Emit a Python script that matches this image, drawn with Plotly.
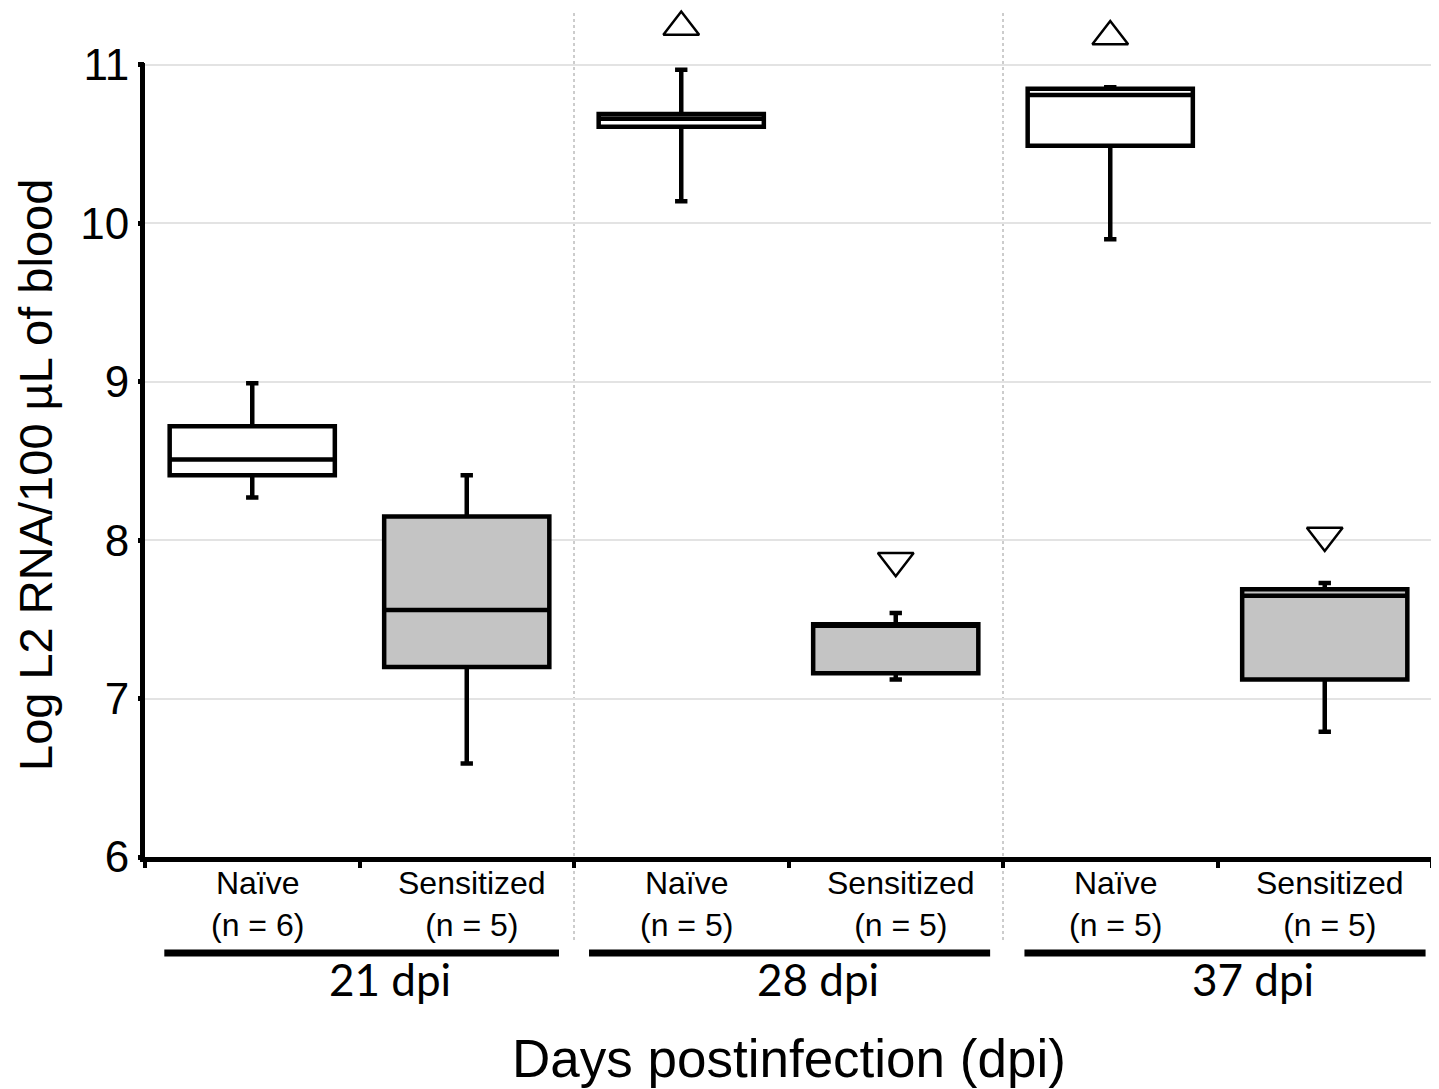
import plotly.graph_objects as go

# ---- data ----
positions = [0, 1, 2, 3, 4, 5]
groups = ["Naïve", "Sensitized", "Naïve", "Sensitized", "Naïve", "Sensitized"]
n_labels = ["(n = 6)", "(n = 5)", "(n = 5)", "(n = 5)", "(n = 5)", "(n = 5)"]
lower = [8.27, 6.59, 10.14, 7.12, 9.90, 6.79]
q1 = [8.41, 7.20, 10.61, 7.16, 10.49, 7.12]
median = [8.51, 7.56, 10.66, 7.46, 10.81, 7.65]
q3 = [8.72, 8.15, 10.69, 7.47, 10.85, 7.69]
upper = [8.99, 8.41, 10.97, 7.54, 10.86, 7.73]

up_x = [2, 4]
up_y = [11.24, 11.18]
down_x = [3, 5]
down_y = [7.87, 8.03]

day_labels = ["21 dpi", "28 dpi", "37 dpi"]
day_bar_start = [-0.41, 1.57, 3.60]
day_bar_end = [1.43, 3.44, 5.47]
separators = [1.5, 3.5]
yticks = [6, 7, 8, 9, 10, 11]
y_axis_top = 11
y_range = [6, 11.347]

naive_idx = [0, 2, 4]
sens_idx = [1, 3, 5]

FONT = "Liberation Sans, Arial, sans-serif"

# page has an 8px body margin; compensate
W, H = 1431, 1081
ML, MR, MT, MB = 137, 7, 2, 232
plot_h = H - MT - MB
plot_w = W - ML - MR


def py(px):
    """convert page pixel y to paper coordinate"""
    bottom = 8 + MT + plot_h
    return (bottom - px) / plot_h


fig = go.Figure()


def add_box(idx, fill, name):
    fig.add_trace(go.Box(
        x=[positions[i] for i in idx],
        q1=[q1[i] for i in idx],
        median=[median[i] for i in idx],
        q3=[q3[i] for i in idx],
        lowerfence=[lower[i] for i in idx],
        upperfence=[upper[i] for i in idx],
        width=0.77,
        whiskerwidth=0.075,
        fillcolor=fill,
        line=dict(color="black", width=4.5),
        boxpoints=False,
        name=name,
        showlegend=False,
        hoverinfo="skip",
    ))


add_box(naive_idx, "white", "Naïve")
add_box(sens_idx, "#c4c4c4", "Sensitized")

fig.add_trace(go.Scatter(
    x=up_x, y=up_y, mode="markers",
    marker=dict(symbol="triangle-up-open", size=31, color="black",
                line=dict(color="black", width=2.5)),
    cliponaxis=False, showlegend=False, hoverinfo="skip"))
fig.add_trace(go.Scatter(
    x=down_x, y=down_y, mode="markers",
    marker=dict(symbol="triangle-down-open", size=31, color="black",
                line=dict(color="black", width=2.5)),
    cliponaxis=False, showlegend=False, hoverinfo="skip"))

# separators
for s in separators:
    fig.add_shape(type="line", xref="x", yref="paper", x0=s, x1=s,
                  y0=py(940), y1=1.0, line=dict(color="#9a9a9a", width=1, dash="dot"),
                  layer="below")

# y axis line (only up to 11)
top_frac = (y_axis_top - y_range[0]) / (y_range[1] - y_range[0])
fig.add_shape(type="line", xref="paper", yref="paper",
              x0=-2.5 / plot_w, x1=-2.5 / plot_w,
              y0=-5 / plot_h, y1=top_frac + 2 / plot_h,
              line=dict(color="black", width=5))

# category labels
for p, g, n in zip(positions, groups, n_labels):
    fig.add_annotation(x=p, y=py(904), xref="x", yref="paper",
                       text=f"{g}<br>{n}", showarrow=False,
                       xshift=5, yanchor="middle",
                       font=dict(family=FONT, size=32, color="black"))

# day bars and labels
for lab, a, b in zip(day_labels, day_bar_start, day_bar_end):
    fig.add_shape(type="line", xref="x", yref="paper", x0=a, x1=b,
                  y0=py(953), y1=py(953), line=dict(color="black", width=7))
    fig.add_annotation(x=(a + b) / 2, y=py(979), xref="x", yref="paper",
                       text=lab, showarrow=False, xshift=28, yanchor="middle",
                       font=dict(family="Lato, sans-serif", size=44, color="black"))

fig.add_annotation(x=0.5, y=py(1058), xref="paper", yref="paper",
                   text="Days postinfection (dpi)", showarrow=False, yanchor="middle",
                   font=dict(family=FONT, size=53, color="black"))

fig.add_annotation(x=(35 - 145) / plot_w, y=py(475), xref="paper", yref="paper",
                   text="Log L2 RNA/100 µL of blood", showarrow=False, textangle=-90,
                   xanchor="center", yanchor="middle",
                   font=dict(family=FONT, size=47, color="black"))

fig.update_layout(
    width=W, height=H,
    margin=dict(l=ML, r=MR, t=MT, b=MB),
    paper_bgcolor="white", plot_bgcolor="white",
    boxmode="overlay",
    showlegend=False,
    font=dict(family=FONT, color="black"),
    xaxis=dict(range=[-0.5, 5.5], showgrid=False, zeroline=False,
               showline=True, linecolor="black", linewidth=5,
               tickvals=[-0.5, 0.5, 1.5, 2.5, 3.5, 4.5, 5.5], showticklabels=False,
               ticks="outside", ticklen=6, tickwidth=4, tickcolor="black"),
    yaxis=dict(range=y_range, tickvals=yticks, showgrid=True, gridcolor="#e3e3e3",
               gridwidth=2, zeroline=False, showline=False,
               ticks="outside", ticklen=6, tickwidth=5, tickcolor="black",
               tickfont=dict(family=FONT, size=44, color="black"),
               ticklabelstandoff=0),
)

fig.write_html("out.html")
